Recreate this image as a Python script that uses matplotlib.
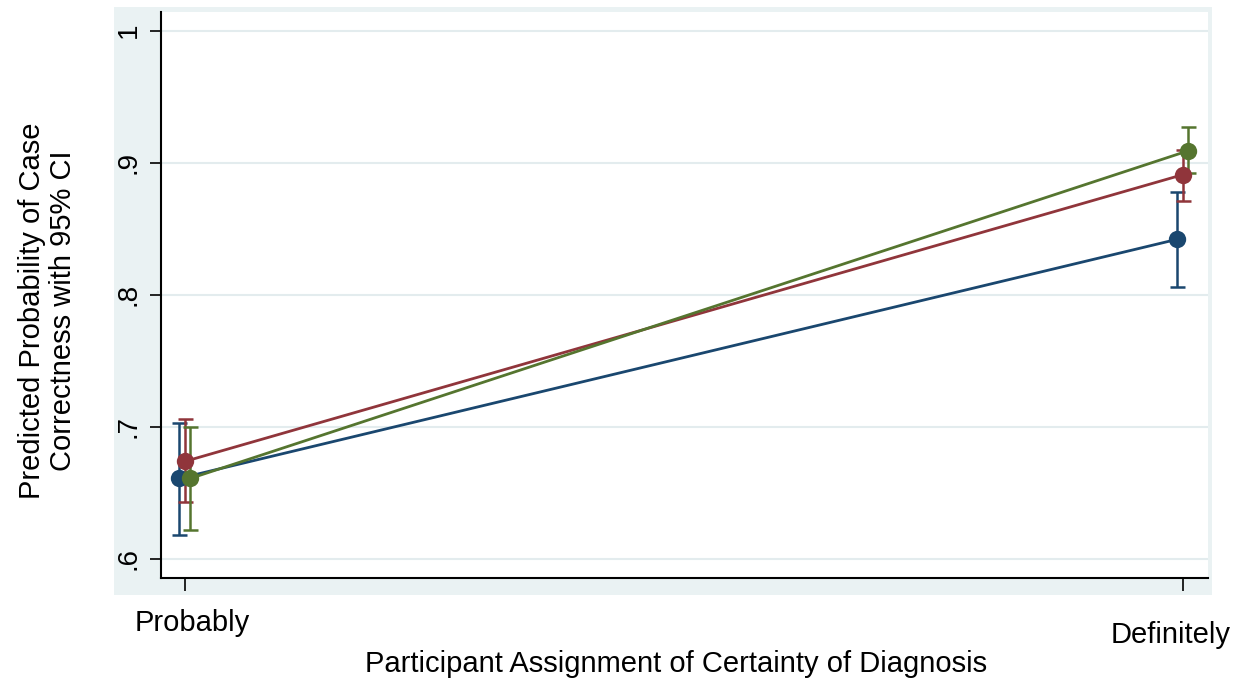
import matplotlib
matplotlib.use("Agg")
import matplotlib.pyplot as plt
from matplotlib.patches import Rectangle
from matplotlib.transforms import ScaledTranslation
import numpy as np

plt.rcParams['font.family'] = ['Liberation Sans', 'DejaVu Sans']

# Certainty categories on the x axis
categories = ["Probably", "Definitely"]

# Predicted probabilities with 95% confidence limits, one group per series
group1_est = [0.661, 0.842]
group1_lo = [0.618, 0.806]
group1_hi = [0.703, 0.878]

group2_est = [0.674, 0.891]
group2_lo = [0.643, 0.871]
group2_hi = [0.706, 0.910]

group3_est = [0.661, 0.909]
group3_lo = [0.622, 0.892]
group3_hi = [0.700, 0.927]

y_ticks = [0.6, 0.7, 0.8, 0.9, 1.0]
y_tick_labels = [".6", ".7", ".8", ".9", "1"]

series = [
    (group1_est, group1_lo, group1_hi, "#1a476f", -0.006),
    (group2_est, group2_lo, group2_hi, "#90353b", 0.0),
    (group3_est, group3_lo, group3_hi, "#55752f", 0.005),
]

W, H = 1241, 683
fig = plt.figure(figsize=(W / 100, H / 100), dpi=100)
fig.patch.set_facecolor("white")

# Light graph-region panel behind the plot
fig.patches.append(Rectangle((114 / W, 1 - 595 / H), (1212 - 114) / W, (595 - 7) / H,
                             transform=fig.transFigure, facecolor="#eaf2f3",
                             edgecolor="none", zorder=-5))

ax = fig.add_axes([161 / W, 1 - 578 / H, (1208 - 161) / W, (578 - 12) / H])
ax.set_zorder(2)
ax.set_facecolor("white")

x = np.arange(len(categories))
for est, lo, hi, color, off in series:
    xs = x + off
    est = np.asarray(est)
    yerr = [est - np.asarray(lo), np.asarray(hi) - est]
    ax.errorbar(xs, est, yerr=yerr, fmt="none", ecolor=color, elinewidth=1.8,
                capsize=5.4, capthick=1.8, zorder=3)
    ax.plot(xs, est, color=color, linewidth=2.0, marker="o", markersize=12.5,
            markeredgewidth=0, zorder=4)

ax.set_xlim(-0.0245, 1.025)
ax.set_ylim(0.5856, 1.0141)

ax.set_yticks(y_ticks)
ax.set_yticklabels(y_tick_labels, rotation=90, va="center", fontsize=20)
ax.set_xticks(x)
ax.set_xticklabels(categories, fontsize=21)

ax.grid(axis="y", color="#e3ecee", linewidth=1.5, zorder=0)
ax.set_axisbelow(True)

for side in ("top", "right"):
    ax.spines[side].set_visible(False)
for side in ("left", "bottom"):
    ax.spines[side].set_linewidth(1.5)
    ax.spines[side].set_color("black")

ax.tick_params(axis="y", length=8, width=1.2, pad=6)
ax.tick_params(axis="x", length=9, width=1.2, pad=13)

# Staggered category labels
xl = ax.get_xticklabels()
xl[0].set_transform(xl[0].get_transform() + ScaledTranslation(7 / 100, 0, fig.dpi_scale_trans))
xl[1].set_transform(xl[1].get_transform() + ScaledTranslation(-12 / 100, -12 / 100, fig.dpi_scale_trans))

ax.set_xlabel("Participant Assignment of Certainty of Diagnosis", fontsize=21)
ax.xaxis.set_label_coords(0.492, -0.128)
ax.set_ylabel("Predicted Probability of Case\nCorrectness with 95% CI", fontsize=21,
              linespacing=1.15)
ax.yaxis.set_label_coords(-0.08, 0.473)

fig.savefig("out.png", dpi=100, facecolor="white")
